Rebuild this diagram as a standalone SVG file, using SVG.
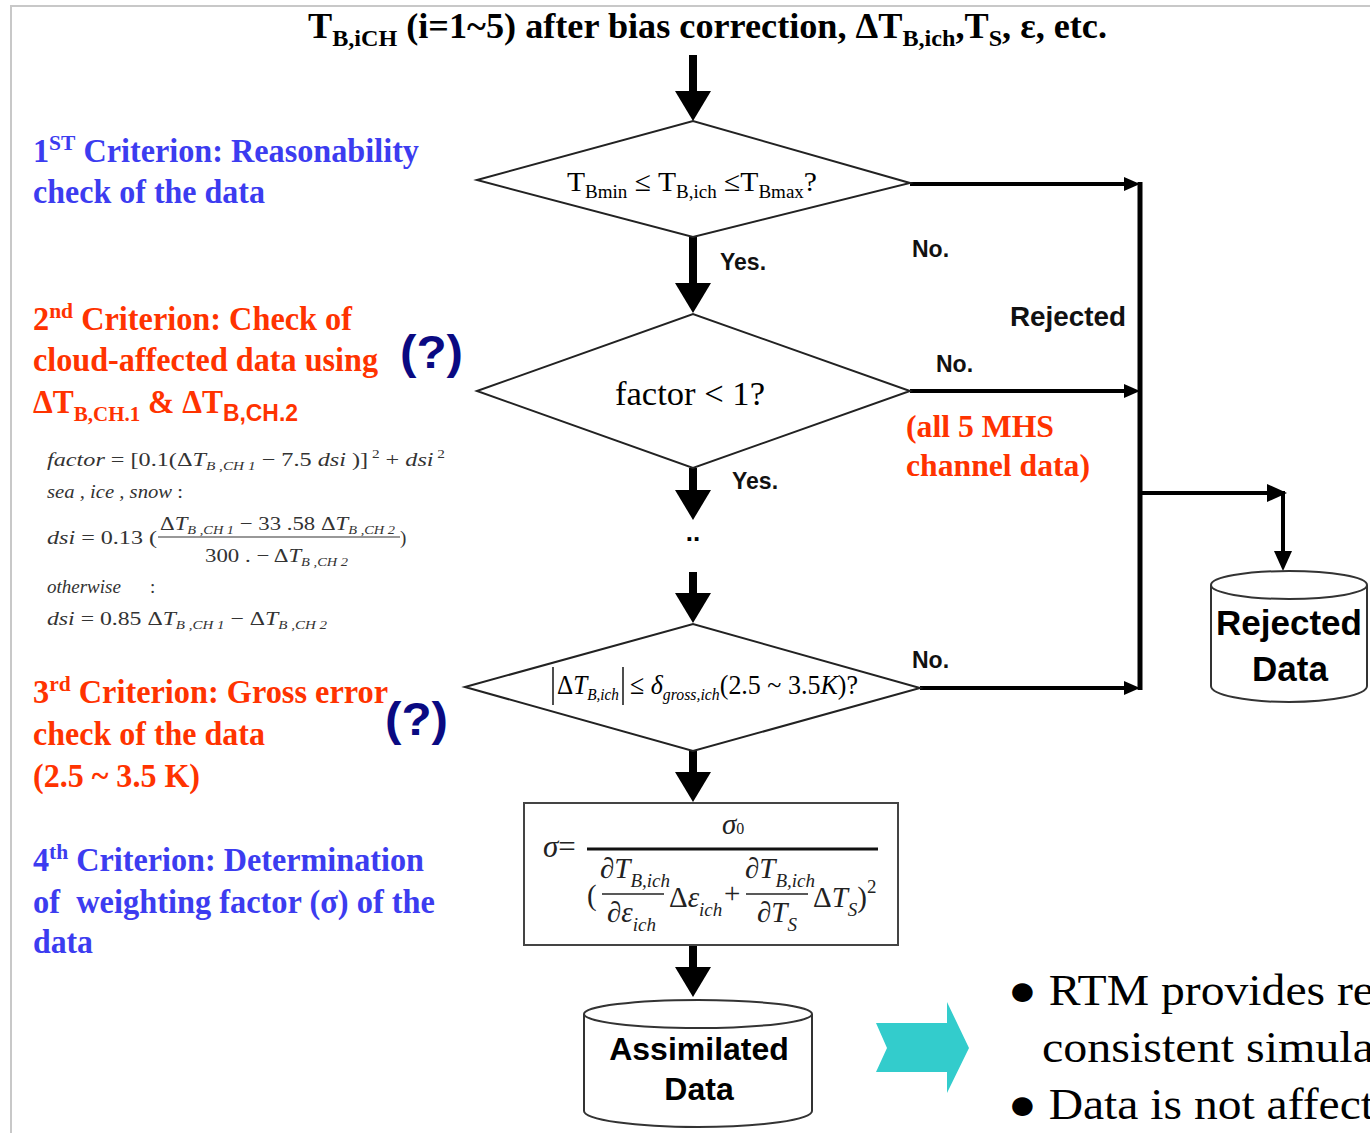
<svg xmlns="http://www.w3.org/2000/svg" width="1370" height="1133" viewBox="0 0 1370 1133">
<style>
.serif{font-family:"Liberation Serif","Times New Roman",serif}
.sans{font-family:"Liberation Sans",Arial,sans-serif;font-weight:bold}
.title{font-family:"Liberation Serif",serif;font-weight:bold;font-size:36px;fill:#000}
.crit{font-family:"Liberation Serif",serif;font-weight:bold;font-size:33px}
.blue{fill:#3C3CF0}
.red{fill:#FF3300}
.q{font-family:"Liberation Sans",Arial,sans-serif;font-weight:bold;font-size:46px;fill:#0A0A82}
.fm{font-family:"Liberation Serif",serif;font-size:19px;fill:#333}
.it{font-style:italic}
.math{font-family:"Liberation Serif",serif;font-size:29px;fill:#222}
.lbl{font-family:"Liberation Sans",Arial,sans-serif;font-weight:bold;font-size:23px;fill:#111}
.shape{fill:#fff;stroke:#222;stroke-width:2}
.cyl{fill:#fff;stroke:#333;stroke-width:2}
.thick{stroke:#000;stroke-width:8;fill:none}
.thin{stroke:#000;stroke-width:4;fill:none}
</style>
<defs>
<marker id="ah" markerUnits="userSpaceOnUse" viewBox="0 0 30 36" refX="0" refY="18" markerWidth="30" markerHeight="36" orient="auto"><path d="M0,0 L30,18 L0,36 Z" fill="#000"/></marker>
<marker id="as" markerUnits="userSpaceOnUse" viewBox="0 0 16 14" refX="0" refY="7" markerWidth="16" markerHeight="14" orient="auto"><path d="M0,0 L16,7 L0,14 Z" fill="#000"/></marker>
<marker id="am" markerUnits="userSpaceOnUse" viewBox="0 0 20 18" refX="0" refY="9" markerWidth="20" markerHeight="18" orient="auto"><path d="M0,0 L20,9 L0,18 Z" fill="#000"/></marker>
</defs>
<rect width="1370" height="1133" fill="#fff"/>
<path d="M11,1133 V6 H1370" fill="none" stroke="#C8C8C8" stroke-width="2"/>

<g id="title">
<text x="308" y="38" class="title" textLength="799" lengthAdjust="spacingAndGlyphs">T<tspan dy="8" font-size="24">B,iCH</tspan><tspan dy="-8"> (i=1~5) after bias correction, ΔT</tspan><tspan dy="8" font-size="24">B,ich</tspan><tspan dy="-8">,T</tspan><tspan dy="8" font-size="24">S</tspan><tspan dy="-8">, ε, etc.</tspan></text>
</g>

<g id="crit1" class="crit blue">
<text x="33" y="162" textLength="386" lengthAdjust="spacingAndGlyphs">1<tspan dy="-12" font-size="22">ST</tspan><tspan dy="12"> Criterion: Reasonability</tspan></text>
<text x="33" y="203" textLength="232" lengthAdjust="spacingAndGlyphs">check of the data</text>
</g>

<g id="crit2" class="crit red">
<text x="33" y="330" textLength="319" lengthAdjust="spacingAndGlyphs">2<tspan dy="-12" font-size="22">nd</tspan><tspan dy="12"> Criterion: Check of</tspan></text>
<text x="33" y="371" textLength="345" lengthAdjust="spacingAndGlyphs">cloud-affected data using</text>
<text x="33" y="413" textLength="265" lengthAdjust="spacingAndGlyphs">ΔT<tspan dy="8" font-size="22">B,CH.1</tspan><tspan dy="-8"> &amp; ΔT</tspan><tspan dy="8" font-size="24" font-family="Liberation Sans, Arial, sans-serif">B,CH.2</tspan></text>
</g>

<g id="q-mark-1"><text x="400" y="368" class="q" textLength="63" lengthAdjust="spacingAndGlyphs">(?)</text></g>
<g id="q-mark-2"><text x="385" y="735" class="q" textLength="63" lengthAdjust="spacingAndGlyphs">(?)</text></g>

<g id="cloud-formulas" class="fm">
<text x="47" y="466" textLength="398" lengthAdjust="spacingAndGlyphs"><tspan class="it">factor</tspan> = [0.1(Δ<tspan class="it">T</tspan><tspan class="it" dy="4" font-size="12">B ,CH 1</tspan><tspan dy="-4"> − 7.5 </tspan><tspan class="it">dsi</tspan> )]<tspan dy="-8" font-size="12"> 2</tspan><tspan dy="8"> + </tspan><tspan class="it">dsi</tspan><tspan dy="-8" font-size="12"> 2</tspan></text>
<text x="47" y="498" textLength="136" lengthAdjust="spacingAndGlyphs"><tspan class="it">sea , ice , snow</tspan> :</text>
<text x="160" y="530" textLength="235" lengthAdjust="spacingAndGlyphs">Δ<tspan class="it">T</tspan><tspan class="it" dy="4" font-size="12">B ,CH 1</tspan><tspan dy="-4"> − 33 .58 Δ</tspan><tspan class="it">T</tspan><tspan class="it" dy="4" font-size="12">B ,CH 2</tspan></text>
<line x1="158" y1="537" x2="400" y2="537" stroke="#333" stroke-width="1.2"/>
<text x="47" y="544" textLength="110" lengthAdjust="spacingAndGlyphs"><tspan class="it">dsi</tspan> = 0.13 (</text>
<text x="400" y="544">)</text>
<text x="205" y="562" textLength="143" lengthAdjust="spacingAndGlyphs">300 . − Δ<tspan class="it">T</tspan><tspan class="it" dy="4" font-size="12">B ,CH 2</tspan></text>
<text x="47" y="593"><tspan class="it">otherwise</tspan><tspan x="150">:</tspan></text>
<text x="47" y="625" textLength="280" lengthAdjust="spacingAndGlyphs"><tspan class="it">dsi</tspan> = 0.85 Δ<tspan class="it">T</tspan><tspan class="it" dy="4" font-size="12">B ,CH 1</tspan><tspan dy="-4"> − Δ</tspan><tspan class="it">T</tspan><tspan class="it" dy="4" font-size="12">B ,CH 2</tspan></text>
</g>

<g id="crit3" class="crit red">
<text x="33" y="703" textLength="355" lengthAdjust="spacingAndGlyphs">3<tspan dy="-12" font-size="22">rd</tspan><tspan dy="12"> Criterion: Gross error</tspan></text>
<text x="33" y="745" textLength="232" lengthAdjust="spacingAndGlyphs">check of the data</text>
<text x="33" y="787" textLength="167" lengthAdjust="spacingAndGlyphs">(2.5 ~ 3.5 K)</text>
</g>

<g id="crit4" class="crit blue">
<text x="33" y="871" textLength="391" lengthAdjust="spacingAndGlyphs">4<tspan dy="-12" font-size="22">th</tspan><tspan dy="12"> Criterion: Determination</tspan></text>
<text x="33" y="913" textLength="402" lengthAdjust="spacingAndGlyphs" xml:space="preserve">of  weighting factor (σ) of the</text>
<text x="33" y="953" textLength="60" lengthAdjust="spacingAndGlyphs">data</text>
</g>

<g id="connectors">
<line class="thick" x1="693" y1="55" x2="693" y2="91" marker-end="url(#ah)"/>
<line class="thick" x1="693" y1="237" x2="693" y2="283" marker-end="url(#ah)"/>
<line class="thick" x1="693" y1="468" x2="693" y2="490" marker-end="url(#ah)"/>
<line class="thick" x1="693" y1="572" x2="693" y2="593" marker-end="url(#ah)"/>
<line class="thick" x1="693" y1="751" x2="693" y2="772" marker-end="url(#ah)"/>
<line class="thick" x1="693" y1="945" x2="693" y2="967" marker-end="url(#ah)"/>
<line class="thin" x1="910" y1="184" x2="1124" y2="184" marker-end="url(#as)"/>
<line class="thin" x1="910" y1="391" x2="1124" y2="391" marker-end="url(#as)"/>
<line class="thin" x1="920" y1="688" x2="1124" y2="688" marker-end="url(#as)"/>
<line x1="1140" y1="182" x2="1140" y2="690" stroke="#000" stroke-width="5"/>
<line class="thin" x1="1140" y1="493" x2="1267" y2="493" marker-end="url(#am)"/>
<line class="thin" x1="1283" y1="491" x2="1283" y2="551" marker-end="url(#am)"/>
</g>

<g id="d1">
<polygon class="shape" points="477,180 693,121 910,183 693,237"/>
<text x="567" y="191" class="serif" font-size="28" textLength="250" lengthAdjust="spacingAndGlyphs">T<tspan dy="7" font-size="18">Bmin</tspan><tspan dy="-7"> ≤ T</tspan><tspan dy="7" font-size="18">B,ich</tspan><tspan dy="-7"> ≤T</tspan><tspan dy="7" font-size="18">Bmax</tspan><tspan dy="-7">?</tspan></text>
</g>

<g id="d2">
<polygon class="shape" points="477,391 693,314 910,391 693,468"/>
<text x="615" y="405" class="serif" font-size="34" textLength="150" lengthAdjust="spacingAndGlyphs">factor &lt; 1?</text>
</g>

<g id="dots"><text x="693" y="541" class="sans" font-size="26" text-anchor="middle">..</text></g>

<g id="d3">
<polygon class="shape" points="465,687 693,624 920,688 693,751"/>
<line x1="553" y1="667" x2="553" y2="705" stroke="#222" stroke-width="1.6"/>
<line x1="623" y1="667" x2="623" y2="705" stroke="#222" stroke-width="1.6"/>
<text x="557" y="694" class="serif" font-size="28" textLength="62" lengthAdjust="spacingAndGlyphs">Δ<tspan class="it">T</tspan><tspan class="it" dy="6" font-size="17">B,ich</tspan></text>
<text x="630" y="694" class="serif" font-size="28" textLength="228" lengthAdjust="spacingAndGlyphs">≤ <tspan class="it">δ</tspan><tspan class="it" dy="6" font-size="17">gross,ich</tspan><tspan dy="-6">(2.5 ~ 3.5</tspan><tspan class="it">K</tspan>)?</text>
</g>

<g id="labels">
<text x="720" y="270" class="lbl">Yes.</text>
<text x="912" y="257" class="lbl">No.</text>
<text x="1010" y="326" class="lbl" style="font-size:28px" textLength="116" lengthAdjust="spacingAndGlyphs">Rejected</text>
<text x="936" y="372" class="lbl">No.</text>
<text x="732" y="489" class="lbl">Yes.</text>
<text x="912" y="668" class="lbl">No.</text>
<text x="906" y="437" class="crit red" style="font-size:31px" textLength="148" lengthAdjust="spacingAndGlyphs">(all 5 MHS</text>
<text x="906" y="476" class="crit red" style="font-size:31px" textLength="184" lengthAdjust="spacingAndGlyphs">channel data)</text>
</g>

<g id="sigma-box">
<rect x="524" y="803" width="374" height="142" fill="#fff" stroke="#444" stroke-width="2"/>
<g class="math">
<text x="543" y="857" style="font-size:31px"><tspan class="it">σ</tspan>=</text>
<line x1="587" y1="849" x2="878" y2="849" stroke="#111" stroke-width="3"/>
<text x="722" y="834" class="it">σ<tspan font-size="16" font-style="normal">0</tspan></text>
<text x="587" y="905">(</text>
<text x="600" y="878" class="it">∂T<tspan font-size="19" dy="9">B,ich</tspan></text>
<line x1="602" y1="894" x2="664" y2="894" stroke="#222" stroke-width="1.5"/>
<text x="607" y="922" class="it">∂ε<tspan font-size="19" dy="9">ich</tspan></text>
<text x="669" y="907">Δ<tspan class="it">ε</tspan><tspan class="it" font-size="19" dy="9">ich</tspan></text>
<text x="724" y="903">+</text>
<text x="745" y="878" class="it">∂T<tspan font-size="19" dy="9">B,ich</tspan></text>
<line x1="746" y1="894" x2="808" y2="894" stroke="#222" stroke-width="1.5"/>
<text x="757" y="922" class="it">∂T<tspan font-size="19" dy="9">S</tspan></text>
<text x="813" y="907">Δ<tspan class="it">T</tspan><tspan class="it" font-size="19" dy="9">S</tspan><tspan dy="-9">)</tspan><tspan font-size="19" dy="-14">2</tspan></text>
</g>
</g>

<g id="cyl-assimilated">
<path class="cyl" d="M584,1014 V1111 A114,16 0 0 0 812,1111 V1014"/>
<ellipse class="cyl" cx="698" cy="1014" rx="114" ry="14"/>
<text x="699" y="1060" class="sans" font-size="32" text-anchor="middle">Assimilated</text>
<text x="699" y="1100" class="sans" font-size="32" text-anchor="middle">Data</text>
</g>

<g id="cyl-rejected">
<path class="cyl" d="M1211,585 V686 A78,16 0 0 0 1367,686 V585"/>
<ellipse class="cyl" cx="1289" cy="585" rx="78" ry="14"/>
<text x="1289" y="635" class="sans" font-size="35" text-anchor="middle">Rejected</text>
<text x="1290" y="681" class="sans" font-size="35" text-anchor="middle">Data</text>
</g>

<g id="cyan-arrow">
<polygon points="876,1023 947,1023 947,1002 969,1048 947,1093 947,1072 876,1072 887,1048" fill="#33CCCC"/>
</g>

<g id="bullets" class="serif" font-size="44" fill="#000">
<text x="1008" y="1005" textLength="366" lengthAdjust="spacingAndGlyphs">● RTM provides re</text>
<text x="1042" y="1062" textLength="332" lengthAdjust="spacingAndGlyphs">consistent simula</text>
<text x="1008" y="1119" textLength="366" lengthAdjust="spacingAndGlyphs">● Data is not affect</text>
</g>
</svg>
